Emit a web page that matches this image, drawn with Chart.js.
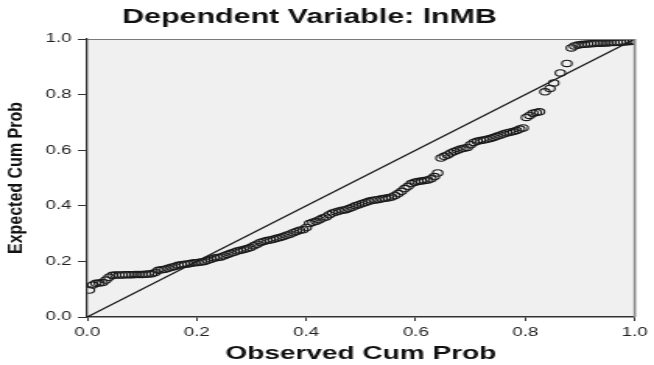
<!DOCTYPE html>
<html>
<head>
<meta charset="utf-8">
<script src="https://cdn.jsdelivr.net/npm/chart.js@4/dist/chart.umd.min.js"></script>
<style>
  html, body { margin: 0; padding: 0; background: #ffffff; overflow: hidden; }
  #wrap { width: 420px; height: 365px; transform: scaleX(1.55714); transform-origin: 0 0; }
  canvas { display: block; }
</style>
</head>
<body>
<div id="wrap"><canvas id="c" width="420" height="365"></canvas></div>
<script>
const chartTitle = 'Dependent Variable: lnMB';
const xAxisTitle = 'Observed Cum Prob';
const yAxisTitle = 'Expected Cum Prob';
const tickLabels = ['0.0', '0.2', '0.4', '0.6', '0.8', '1.0'];

const observedCumProb = [
  0.004, 0.010, 0.016, 0.022, 0.028, 0.034, 0.040, 0.046, 0.052, 0.058,
  0.064, 0.070, 0.076, 0.082, 0.088, 0.094, 0.100, 0.106, 0.112, 0.118,
  0.124, 0.130, 0.136, 0.142, 0.148, 0.154, 0.160, 0.166, 0.172, 0.178,
  0.184, 0.190, 0.196, 0.202, 0.208, 0.214, 0.220, 0.226, 0.232, 0.238,
  0.244, 0.250, 0.256, 0.262, 0.268, 0.274, 0.280, 0.286, 0.292, 0.298,
  0.304, 0.310, 0.316, 0.322, 0.328, 0.334, 0.340, 0.346, 0.352, 0.358,
  0.364, 0.370, 0.376, 0.382, 0.388, 0.394, 0.400, 0.406, 0.412, 0.418,
  0.424, 0.430, 0.436, 0.442, 0.448, 0.454, 0.460, 0.466, 0.472, 0.478,
  0.484, 0.490, 0.496, 0.502, 0.508, 0.514, 0.520, 0.526, 0.532, 0.538,
  0.544, 0.550, 0.556, 0.562, 0.568, 0.574, 0.580, 0.586, 0.592, 0.598,
  0.604, 0.610, 0.616, 0.622, 0.628, 0.634, 0.640, 0.646, 0.652, 0.658,
  0.664, 0.670, 0.676, 0.682, 0.688, 0.694, 0.700, 0.706, 0.712, 0.718,
  0.724, 0.730, 0.736, 0.742, 0.748, 0.754, 0.760, 0.766, 0.772, 0.778,
  0.784, 0.790, 0.796, 0.802, 0.808, 0.814, 0.820, 0.826, 0.836, 0.845,
  0.852, 0.864, 0.876, 0.884, 0.890, 0.896, 0.902, 0.908, 0.914, 0.920,
  0.926, 0.932, 0.938, 0.944, 0.950, 0.956, 0.962, 0.968, 0.974, 0.980,
  0.986, 0.992, 0.998
];

const expectedCumProb = [
  0.097, 0.115, 0.121, 0.122, 0.124, 0.133, 0.143, 0.150, 0.151, 0.151,
  0.151, 0.152, 0.152, 0.152, 0.153, 0.153, 0.153, 0.154, 0.155, 0.156,
  0.160, 0.168, 0.170, 0.172, 0.175, 0.179, 0.182, 0.186, 0.188, 0.190,
  0.191, 0.193, 0.195, 0.196, 0.198, 0.200, 0.204, 0.208, 0.212, 0.214,
  0.216, 0.220, 0.225, 0.229, 0.233, 0.237, 0.240, 0.243, 0.246, 0.250,
  0.256, 0.262, 0.268, 0.272, 0.275, 0.277, 0.280, 0.283, 0.286, 0.290,
  0.294, 0.298, 0.303, 0.308, 0.312, 0.314, 0.322, 0.336, 0.341, 0.344,
  0.350, 0.356, 0.360, 0.368, 0.374, 0.378, 0.381, 0.384, 0.386, 0.390,
  0.395, 0.400, 0.404, 0.408, 0.412, 0.416, 0.419, 0.421, 0.423, 0.425,
  0.427, 0.429, 0.432, 0.437, 0.444, 0.452, 0.462, 0.470, 0.480, 0.485,
  0.487, 0.489, 0.491, 0.493, 0.497, 0.505, 0.518, 0.572, 0.578, 0.583,
  0.590, 0.595, 0.600, 0.604, 0.607, 0.610, 0.620, 0.628, 0.632, 0.635,
  0.637, 0.639, 0.642, 0.646, 0.650, 0.654, 0.658, 0.662, 0.665, 0.667,
  0.671, 0.676, 0.680, 0.718, 0.725, 0.733, 0.736, 0.738, 0.810, 0.822,
  0.842, 0.878, 0.912, 0.968, 0.975, 0.978, 0.980, 0.981, 0.982, 0.983,
  0.984, 0.985, 0.985, 0.986, 0.986, 0.987, 0.987, 0.988, 0.988, 0.989,
  0.990, 0.991, 0.993
];

const referenceX = [0, 1];
const referenceY = [0, 1];

const STRETCH = 654 / 420;
const Y_TITLE_SQUEEZE = 0.74;
const Y_TITLE_SIZE = 16;
const FONT = "'Liberation Sans', Arial, Helvetica, sans-serif";
Chart.defaults.font.family = FONT;

const plotFrame = {
  id: 'plotFrame',
  afterLayout(chart) {
    if (chart.titleBlock) {
      chart.titleBlock.left = 0;
      chart.titleBlock.right = 397.6;
    }
  },
  beforeDraw(chart) {
    const {ctx, chartArea: a} = chart;
    ctx.save();
    ctx.fillStyle = '#f0f0f0';
    ctx.fillRect(a.left, a.top, a.right - a.left, a.bottom - a.top);
    ctx.restore();
    const ys = chart.scales.y;
    if (ys && !ys._titlePatched) {
      const orig = ys.drawTitle;
      ys.drawTitle = function () {
        const c = this.ctx;
        const cx = this.left + 1 + Y_TITLE_SIZE * 1.2 / 2;
        c.save();
        c.translate(cx, 0);
        c.scale(Y_TITLE_SQUEEZE, 1);
        c.translate(-cx, 0);
        orig.call(this);
        c.restore();
      };
      ys._titlePatched = true;
    }
  },
  afterDraw(chart) {
    const {ctx, chartArea: a} = chart;
    ctx.save();
    ctx.strokeStyle = '#7a7a7a';
    ctx.lineWidth = 1;
    ctx.beginPath();
    ctx.moveTo(a.left, a.top + 0.5);
    ctx.lineTo(a.right, a.top + 0.5);
    ctx.stroke();
    ctx.strokeStyle = '#8a8a8a';
    ctx.lineWidth = 1.6;
    ctx.beginPath();
    ctx.moveTo(a.right, a.top);
    ctx.lineTo(a.right, a.bottom);
    ctx.stroke();
    ctx.restore();
  }
};

new Chart(document.getElementById('c'), {
  type: 'scatter',
  data: {
    datasets: [
      {
        label: 'Observed',
        data: observedCumProb.map((x, i) => ({x: x, y: expectedCumProb[i]})),
        pointStyle: 'circle',
        pointRadius: 3.2,
        pointBorderWidth: 1.1,
        pointBorderColor: '#1a1a1a',
        pointBackgroundColor: 'rgba(0,0,0,0)',
        showLine: false,
        order: 1
      },
      {
        type: 'line',
        label: 'Reference',
        data: referenceX.map((x, i) => ({x: x, y: referenceY[i]})),
        borderColor: '#111111',
        borderWidth: 1.2,
        pointRadius: 0,
        fill: false,
        order: 2
      }
    ]
  },
  options: {
    responsive: false,
    animation: false,
    devicePixelRatio: 1,
    layout: { padding: { left: 0, right: 9, top: 0, bottom: 0 } },
    plugins: {
      legend: { display: false },
      tooltip: { enabled: false },
      title: {
        display: true,
        text: chartTitle,
        color: '#111111',
        font: { family: FONT, size: 19.5, weight: 'bold' },
        padding: { top: 6, bottom: 9.6 }
      }
    },
    scales: {
      x: {
        type: 'linear',
        min: 0,
        max: 1,
        afterFit(scale) { scale.height = 48; },
        ticks: {
          stepSize: 0.2,
          padding: 4,
          color: '#222222',
          font: { family: FONT, size: 12 },
          maxRotation: 0,
          callback: (v, i) => tickLabels[i]
        },
        grid: { display: true, drawOnChartArea: false, drawTicks: true, tickLength: 4, color: '#333333', lineWidth: 1 },
        border: { display: true, color: '#333333', width: 1.5 },
        title: {
          display: true,
          text: xAxisTitle,
          color: '#111111',
          font: { family: FONT, size: 18, weight: 'bold' },
          padding: { top: 0, bottom: 0 }
        }
      },
      y: {
        type: 'linear',
        min: 0,
        max: 1,
        afterFit(scale) { scale.width = 56; },
        ticks: {
          stepSize: 0.2,
          padding: 4,
          color: '#222222',
          font: { family: FONT, size: 12 },
          callback: (v, i) => tickLabels[i]
        },
        grid: { display: true, drawOnChartArea: false, drawTicks: true, tickLength: 6, color: '#333333', lineWidth: 1 },
        border: { display: true, color: '#333333', width: 1.3 },
        title: {
          display: true,
          text: yAxisTitle,
          color: '#111111',
          font: { family: FONT, size: Y_TITLE_SIZE, weight: 'bold' },
          padding: { top: 1, bottom: 0 }
        }
      }
    }
  },
  plugins: [plotFrame]
});
</script>
</body>
</html>
